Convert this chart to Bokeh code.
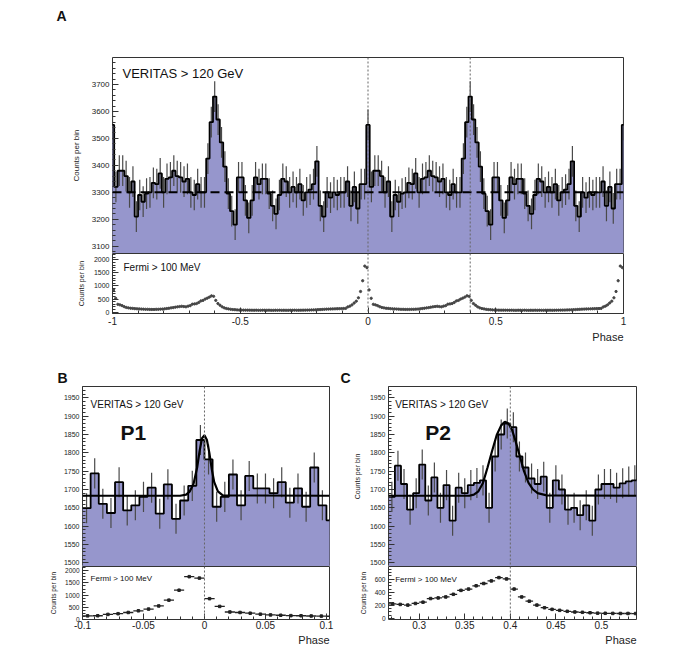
import numpy as np
from bokeh.plotting import figure
from bokeh.layouts import column, row
from bokeh.models import (Range1d, Span, Label, Title, SingleIntervalTicker, FixedTicker,
                          CustomJSTickFormatter)
from bokeh.embed import file_html
from bokeh.resources import INLINE

FONT = "Liberation Sans"
FILL = "#9696cc"

# ---------------- data ----------------
# Panel A: VERITAS counts per bin, 75 bins per cycle, bin k centred on phase k/75
veritas_a_counts = [
    3550, 3320, 3380, 3380, 3360, 3300, 3340, 3210, 3290, 3265,
    3295, 3300, 3335, 3330, 3370, 3300, 3350, 3355, 3380, 3360,
    3355, 3340, 3350, 3300, 3290, 3330, 3300, 3300, 3425, 3560,
    3655, 3570, 3485, 3395, 3295, 3230, 3180, 3355, 3355, 3270,
    3205, 3270, 3355, 3330, 3350, 3350, 3295, 3250, 3220, 3290,
    3350, 3340, 3300, 3320, 3300, 3330, 3270, 3300, 3310, 3330,
    3415, 3250, 3210, 3300, 3280, 3300, 3290, 3300, 3300, 3340,
    3250, 3320, 3240, 3330, 3330]
veritas_a_bins = 75
veritas_a_err = 57
veritas_a_baseline = 3300

# Fermi > 100 MeV counts per bin, 120 bins per cycle (bin k = [k/120, (k+1)/120])
fermi_counts = [
    850, 530, 300, 280, 250, 210, 180, 165, 150, 145, 135, 130,
    125, 120, 115, 110, 110, 105, 105, 105, 110, 110, 115, 120, 130, 140, 150, 165, 175, 190, 205, 215,
    225, 215, 205, 230, 250, 305, 315, 330, 370, 430, 450, 500, 535, 575, 625, 605, 450, 330, 265, 205,
    165, 140, 125, 110, 100, 95, 88, 82, 80, 78, 77, 77, 76,
    75, 74, 76, 73, 72, 75, 74, 73, 76, 72, 71, 74, 73, 75, 72, 74, 73, 72, 75, 74, 76, 73, 74, 75,
    77, 78, 80, 82, 85, 88, 92, 96, 100, 105, 110, 115,
    118, 122, 125, 128, 131, 134, 137,
    140, 145, 200, 230, 280, 350, 420, 550, 790, 1200, 1760, 1700]
fermi_bins = 120

# Panel B / C: VERITAS, bins of 1/150 in phase
veritas_bc_binwidth = 1 / 150
veritas_bc_err = 41
veritas_b_start = -0.1
veritas_b_counts = [1649, 1744, 1661, 1636, 1720, 1643, 1657, 1680, 1705, 1634,
                    1714, 1620, 1670, 1710, 1835, 1782, 1653, 1680, 1741, 1657,
                    1737, 1703, 1703, 1690, 1720, 1664, 1703, 1653, 1760, 1657, 1616]
veritas_c_start = 40 / 150
veritas_c_counts = [1680, 1765, 1715, 1645, 1690, 1768, 1670, 1733, 1650, 1712,
                    1615, 1705, 1690, 1712, 1718, 1725, 1650, 1790, 1850, 1880,
                    1870, 1790, 1760, 1730, 1715, 1735, 1650, 1725, 1700, 1645,
                    1650, 1630, 1657, 1615, 1700, 1715, 1715, 1705, 1717, 1722, 1725]

# fitted pulse shapes
fit_b_phase = [-0.1, -0.02, -0.015, -0.012, -0.009, -0.006, -0.004, -0.002, 0.0,
               0.002, 0.004, 0.006, 0.008, 0.011, 0.015, 0.1025]
fit_b_counts = [1683, 1683, 1686, 1695, 1715, 1760, 1805, 1840, 1848,
                1835, 1800, 1755, 1720, 1695, 1684, 1683]
fit_c_phase = [0.2663, 0.355, 0.36, 0.365, 0.37, 0.375, 0.38, 0.385, 0.39, 0.394,
               0.398, 0.402, 0.406, 0.41, 0.415, 0.42, 0.425, 0.43, 0.44, 0.5385]
fit_c_counts = [1683, 1683, 1686, 1695, 1718, 1760, 1805, 1848, 1875, 1885,
                1880, 1862, 1830, 1795, 1750, 1718, 1700, 1690, 1684, 1683]

pulse_phases_a = [0.0, 0.4]
pulse_phase_b = 0.0
pulse_phase_c = 0.4

TICKFMT = CustomJSTickFormatter(code="""
var v = Math.round(tick * 1000) / 1000;
if (Math.abs(v) < 1e-9) { v = 0; }
return String(v);
""")


# ---------------- helpers ----------------
def base_fig(xr, yr, fw, fh, left, right, top, bottom, xaxis=True):
    p = figure(x_range=xr, y_range=yr, frame_width=fw, frame_height=fh,
               min_border_left=left, min_border_right=right,
               min_border_top=top, min_border_bottom=bottom,
               x_axis_location="below" if xaxis else None,
               output_backend="svg", toolbar_location=None, tools="")
    p.grid.visible = False
    p.outline_line_color = "#333333"
    p.outline_line_width = 1
    p.border_fill_color = "white"
    p.background_fill_color = "white"
    return p


def style_axis(ax, ticker, size, label=None, label_size="8px", standoff=6):
    ax.ticker = ticker
    ax.axis_line_color = None
    ax.major_tick_in = 6
    ax.major_tick_out = 0
    ax.minor_tick_in = 3
    ax.minor_tick_out = 0
    ax.major_tick_line_color = "#333333"
    ax.minor_tick_line_color = "#333333"
    ax.major_label_text_font = FONT
    ax.major_label_text_font_size = size
    ax.major_label_text_color = "#222222"
    ax.major_label_standoff = 3
    if label:
        ax.axis_label = label
        ax.axis_label_text_font = FONT
        ax.axis_label_text_font_size = label_size
        ax.axis_label_text_font_style = "normal"
        ax.axis_label_text_color = "#222222"
        ax.axis_label_standoff = standoff


def txt(p, x, y, s, size, bold=False, align="left"):
    p.add_layout(Label(x=x, y=y, text=s, text_font=FONT, text_font_size=size,
                       text_font_style="bold" if bold else "normal",
                       text_baseline="middle", text_align=align, text_color="#111111"))


def panel_letter(p, s, offset, standoff, valign="bottom"):
    p.title.text = s
    p.title.align = "left"
    p.title.offset = offset
    p.title.standoff = standoff
    p.title.vertical_align = valign
    p.title.text_font = FONT
    p.title.text_font_size = "14px"
    p.title.text_font_style = "bold"
    p.title.text_color = "#111111"


def phase_title(p, standoff):
    p.add_layout(Title(text="Phase", align="right", text_font=FONT, text_font_size="11px",
                       text_font_style="normal", text_color="#222222", standoff=standoff),
                 "below")


def vline(p, loc):
    p.add_layout(Span(location=loc, dimension="height", line_color="#666666",
                      line_width=1, line_dash="2 2"))


def histo(p, lefts, width, vals, err, floor):
    lefts = np.asarray(lefts, dtype=float)
    vals = np.asarray(vals, dtype=float)
    centers = lefts + width / 2
    xs = np.append(lefts, lefts[-1] + width)
    ys = np.append(vals, vals[-1])
    p.varea_step(x=xs, y1=np.full(len(xs), floor, dtype=float), y2=ys,
                 step_mode="after", fill_color=FILL)
    p.segment(centers, vals - err, centers, vals + err, line_color="#4a4a4a", line_width=1.2)
    p.step(x=xs, y=ys, mode="after", line_color="black", line_width=1.8)


# ---------------- Panel A ----------------
xa = Range1d(-1, 1)
pa = base_fig(xa, Range1d(3073, 3800), 511, 196, 112, 58, 57, 0, xaxis=False)
style_axis(pa.yaxis[0], FixedTicker(ticks=[3100, 3200, 3300, 3400, 3500, 3600, 3700],
                                    minor_ticks=list(range(3080, 3800, 20))),
           "8px", "Counts per bin", "8px", 8)
ka = np.arange(-veritas_a_bins, veritas_a_bins + 1)
a_vals = [veritas_a_counts[i % veritas_a_bins] for i in ka]
a_w = 1 / veritas_a_bins
histo(pa, ka / veritas_a_bins - a_w / 2, a_w, a_vals, veritas_a_err, 3000)
pa.add_layout(Span(location=veritas_a_baseline, dimension="width", line_color="black",
                   line_width=2, line_dash="9 5"))
for ph in pulse_phases_a:
    vline(pa, ph)
txt(pa, -0.961, 3740, "VERITAS > 120 GeV", "13px")
# letter "A" as a three-line title so that it sits high above the frame
panel_letter(pa, "A\n \n ", -56, 0, "top")

pa2 = base_fig(xa, Range1d(-50, 2240), 511, 60, 112, 58, 0, 35)
style_axis(pa2.yaxis[0], SingleIntervalTicker(interval=500, num_minor_ticks=5),
           "7px", "Counts per bin", "7px", 6)
style_axis(pa2.xaxis[0], SingleIntervalTicker(interval=0.5, num_minor_ticks=5), "10px")
pa2.xaxis[0].formatter = TICKFMT
kf = np.arange(-fermi_bins, fermi_bins)
fa_x = (kf + 0.5) / fermi_bins
fa_y = [fermi_counts[i % fermi_bins] for i in kf]
pa2.scatter(fa_x, fa_y, size=2.3, color="#444444", marker="circle")
for ph in pulse_phases_a:
    vline(pa2, ph)
txt(pa2, -0.957, 1714, "Fermi > 100 MeV", "10px")
phase_title(pa2, 2)


# ---------------- Panel B / C ----------------
def fermi_panel(x0, x1):
    kk = np.array([k for k in range(-fermi_bins, fermi_bins)
                   if x0 <= (k + 0.5) / fermi_bins <= x1])
    xs = (kk + 0.5) / fermi_bins
    ys = np.array([fermi_counts[i % fermi_bins] for i in kk], dtype=float)
    return xs, ys


def zoom_panels(xr, fw, vals, start, fit_x, fit_y, pulse, label_x, plabel,
                fermi_range, fermi_tick, fermi_label_y, left, right, top_title=True):
    p = base_fig(xr, Range1d(1490, 1981), fw, 180, left, right, 38, 0, xaxis=False)
    style_axis(p.yaxis[0], SingleIntervalTicker(interval=50, num_minor_ticks=5),
               "7px", "Counts per bin" if top_title else None, "7px", 6)
    w = veritas_bc_binwidth
    lefts = start + np.arange(len(vals)) * w
    histo(p, lefts, w, vals, veritas_bc_err, 1400)
    p.line(fit_x, fit_y, line_color="black", line_width=2.2)
    vline(p, pulse)
    txt(p, label_x, 1932, "VERITAS > 120 GeV", "10px")
    txt(p, plabel[0], 1855, plabel[1], "21px", bold=True)

    p2 = base_fig(xr, Range1d(*fermi_range), fw, 53, left, right, 0, 23)
    style_axis(p2.yaxis[0], SingleIntervalTicker(interval=fermi_tick, num_minor_ticks=4),
               "6.5px", "Counts per bin", "6.5px", 5)
    style_axis(p2.xaxis[0], SingleIntervalTicker(interval=0.05, num_minor_ticks=5), "10px")
    p2.xaxis[0].formatter = TICKFMT
    p2.xaxis[0].major_label_standoff = 1
    fx, fy = fermi_panel(xr.start - 0.01, xr.end + 0.01)
    hw = 0.5 / fermi_bins
    p2.segment(fx - hw, fy, fx + hw, fy, line_color="#222222", line_width=1.3)
    p2.scatter(fx, fy, size=2.5, color="#222222", marker="square")
    vline(p2, pulse)
    txt(p2, label_x, fermi_label_y, "Fermi > 100 MeV", "8px")
    phase_title(p2, 0)
    return p, p2


xb = Range1d(-0.1, 0.1025)
pb, pb2 = zoom_panels(xb, 247, veritas_b_counts, veritas_b_start, fit_b_phase, fit_b_counts,
                      pulse_phase_b, -0.0934, (-0.0688, "P1"), (-10, 2180), 500, 1689, 82, 10,
                      top_title=False)
panel_letter(pb, "B", -25, 2)

xc = Range1d(0.2663, 0.5385)
pc, pc2 = zoom_panels(xc, 248, veritas_c_counts, veritas_c_start, fit_c_phase, fit_c_counts,
                      pulse_phase_c, 0.2736, (0.3066, "P2"), (-15, 795), 200, 600, 49, 20)
panel_letter(pc, "C", -48, 2)

layout = column(pa, pa2, row(column(pb, pb2), column(pc, pc2)))

with open("out.html", "w") as f:
    f.write(file_html(layout, INLINE))
